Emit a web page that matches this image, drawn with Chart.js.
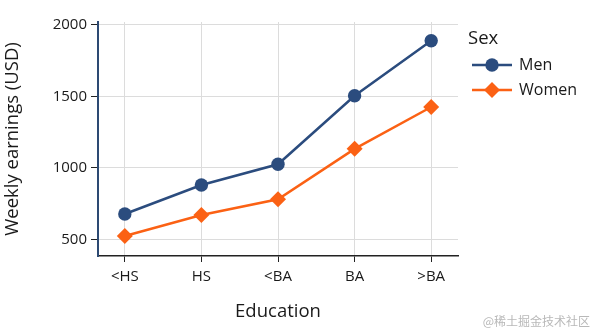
<!DOCTYPE html>
<html>
<head>
<meta charset="utf-8">
<script src="https://cdn.jsdelivr.net/npm/chart.js@4"></script>
<style>
  html, body { margin: 0; padding: 0; background: #fff; }
  #wrap { position: relative; width: 600px; height: 333px; }
  #credit { position: absolute; right: 10px; bottom: 4px; font: 12px "Noto Sans CJK SC", sans-serif; color: #b8b8b8; }
</style>
</head>
<body>
<div id="wrap">
  <canvas id="c" width="600" height="333"></canvas>
  <span id="credit">@稀土掘金技术社区</span>
</div>
<script>
// Median weekly earnings by education level and sex
const educationLevels = ['<HS', 'HS', '<BA', 'BA', '>BA'];
const menEarnings   = [677, 880, 1025, 1505, 1890];
const womenEarnings = [523, 670, 780, 1133, 1426];
const yTicks = [500, 1000, 1500, 2000];

const MEN_COLOR = '#2b4c7e';
const WOMEN_COLOR = '#fb6114';
const FONT = '"Open Sans", "Noto Sans", sans-serif';
const TEXT = '#1a1a1a';

const toPoints = vals => vals.map((v, i) => ({ x: i, y: v }));

// Legend with a title and line+marker swatches, drawn to the right of the plot
const sideLegend = {
  id: 'sideLegend',
  afterDraw(chart) {
    const ctx = chart.ctx;
    const x0 = 468;
    ctx.save();
    ctx.fillStyle = TEXT;
    ctx.textBaseline = 'middle';
    ctx.textAlign = 'left';
    ctx.font = '18.5px ' + FONT;
    ctx.fillText('Sex', x0, 39);
    chart.data.datasets.forEach((ds, i) => {
      const y = 65 + i * 25;
      ctx.strokeStyle = ds.borderColor;
      ctx.lineWidth = 2.5;
      ctx.beginPath();
      ctx.moveTo(x0 + 4, y);
      ctx.lineTo(x0 + 44, y);
      ctx.stroke();
      ctx.fillStyle = ds.borderColor;
      ctx.beginPath();
      if (ds.pointStyle === 'rectRot') {
        const r = 8;
        ctx.moveTo(x0 + 24, y - r);
        ctx.lineTo(x0 + 24 + r, y);
        ctx.lineTo(x0 + 24, y + r);
        ctx.lineTo(x0 + 24 - r, y);
        ctx.closePath();
      } else {
        ctx.arc(x0 + 24, y, 6.7, 0, Math.PI * 2);
      }
      ctx.fill();
      ctx.fillStyle = TEXT;
      ctx.font = '16px ' + FONT;
      ctx.fillText(ds.label, x0 + 51, y);
    });
    ctx.restore();
  }
};

new Chart(document.getElementById('c'), {
  type: 'line',
  data: {
    datasets: [
      {
        label: 'Men',
        data: toPoints(menEarnings),
        borderColor: MEN_COLOR,
        backgroundColor: MEN_COLOR,
        borderWidth: 2.5,
        pointStyle: 'circle',
        pointRadius: 6.7,
        pointHoverRadius: 6.7,
        pointBorderWidth: 0
      },
      {
        label: 'Women',
        data: toPoints(womenEarnings),
        borderColor: WOMEN_COLOR,
        backgroundColor: WOMEN_COLOR,
        borderWidth: 2.5,
        pointStyle: 'rectRot',
        pointRadius: 8,
        pointHoverRadius: 8,
        pointBorderWidth: 0
      }
    ]
  },
  options: {
    responsive: false,
    animation: false,
    layout: { padding: { left: 0, top: 22, right: 142, bottom: 0 } },
    plugins: {
      legend: { display: false },
      tooltip: { enabled: false }
    },
    scales: {
      x: {
        type: 'linear',
        min: -0.35,
        max: 4.35,
        afterBuildTicks(scale) {
          scale.ticks = educationLevels.map((_, i) => ({ value: i }));
        },
        afterFit(scale) { scale.height = 77; },
        ticks: {
          callback: v => educationLevels[v],
          font: { family: FONT, size: 15 },
          color: TEXT,
          padding: 6,
          maxRotation: 0
        },
        grid: {
          color: '#dcdcdc',
          lineWidth: 1,
          tickColor: '#222',
          tickLength: 6
        },
        border: { color: '#222', width: 1.5 },
        title: {
          display: true,
          text: 'Education',
          font: { family: FONT, size: 18.5 },
          color: TEXT,
          padding: { top: 0, bottom: 10 }
        }
      },
      y: {
        min: 383,
        max: 2021,
        afterBuildTicks(scale) {
          scale.ticks = yTicks.map(v => ({ value: v }));
        },
        afterFit(scale) { scale.width = 98; },
        ticks: {
          callback: v => String(v),
          font: { family: FONT, size: 15 },
          color: TEXT,
          padding: 4
        },
        grid: {
          color: '#dcdcdc',
          lineWidth: 1,
          tickColor: '#222',
          tickLength: 7
        },
        border: { color: '#2d4a73', width: 2 },
        title: {
          display: true,
          text: 'Weekly earnings (USD)',
          font: { family: FONT, size: 18.5 },
          color: TEXT,
          padding: { top: 2, bottom: 0 }
        }
      }
    }
  },
  plugins: [sideLegend]
});
</script>
</body>
</html>
